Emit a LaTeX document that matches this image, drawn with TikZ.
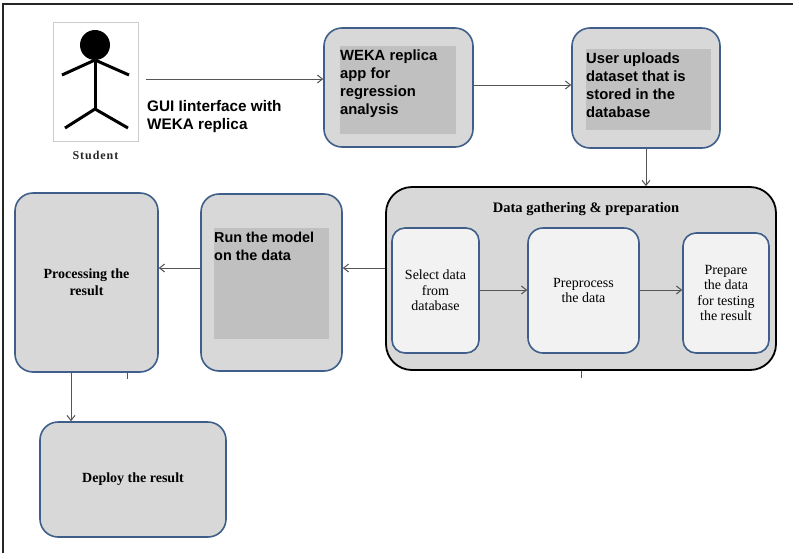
\documentclass[tikz,border=0pt]{standalone}
\usepackage{fontspec}
\setmainfont{Liberation Serif}
\setsansfont{Liberation Sans}
\usepackage{xcolor}
\usetikzlibrary{arrows.meta,positioning,calc}
\definecolor{edgeblue}{HTML}{3F5F8A}
\definecolor{panelgray}{HTML}{D8D8D8}
\definecolor{innergray}{HTML}{C0C0C0}
\definecolor{palegray}{HTML}{F2F2F2}
\definecolor{wiregray}{HTML}{555555}

\begin{document}
\begin{tikzpicture}[
  x=1pt, y=-1pt,
  panel/.style={draw=edgeblue, fill=panelgray, line width=1.6pt, rectangle, rounded corners=18pt,
              align=center, inner sep=0pt, font=\rmfamily\bfseries\fontsize{14}{17}\selectfont},
  subpanel/.style={panel, fill=palegray, rounded corners=13pt, font=\rmfamily\fontsize{14}{15.5}\selectfont},
  group/.style={draw=black, fill=panelgray, line width=1.8pt, rectangle, rounded corners=26pt, inner sep=0pt},
  inner/.style={fill=innergray, rectangle, inner sep=0pt},
  sanslabel/.style={anchor=north west, align=left, inner sep=0pt, font=\sffamily\bfseries\fontsize{14.8}{18}\selectfont},
  arr/.style={-{Straight Barb[length=5pt,width=8pt]}, wiregray, line width=1pt},
  stub/.style={wiregray, line width=1pt},
  limb/.style={line width=3pt, black}
]
\useasboundingbox (0,0) rectangle (801,558);

% Page frame
\draw[line width=2.2pt, black!85] (3,553) -- (3,4) -- (793,4);

% Student figure
\node[draw=black!20, fill=white, minimum width=85pt, minimum height=119pt, inner sep=0pt] (student) at (95.5,81.5) {};
\node[circle, fill=black, minimum size=30pt, inner sep=0pt] (head) at (95,45) {};
\coordinate (neck) at (95,60);
\coordinate (hip) at (95,109);
\draw[limb] (head.south) -- (hip);
\draw[limb] (62,75) -- (neck) -- (129,75);
\draw[limb] (65,128) -- (hip) -- (128,128);
\node[below=10pt of student, inner sep=0pt, font=\rmfamily\bfseries\fontsize{12}{14}\selectfont\addfontfeature{LetterSpace=8}, text=black!85] (studentlabel) {Student};

% Top row
\node[panel, minimum width=149pt, minimum height=119pt] (weka) at (398.5,87.5) {};
\node[inner, minimum width=116pt, minimum height=88pt] (wekainner) at (398,90) {};
\node[sanslabel] (wekatext) at (340,49.5) {WEKA replica\\app for\\regression\\analysis};
\node[panel, minimum width=148pt, minimum height=120pt] (upload) at (646,88) {};
\node[inner, minimum width=125pt, minimum height=81pt] (uploadinner) at (648.5,89.5) {};
\node[sanslabel] (uploadtext) at (586,53) {User uploads\\dataset that is\\stored in the\\database};

\coordinate (gui) at (146,79);
\node[sanslabel, font=\sffamily\bfseries\fontsize{15.3}{18}\selectfont] (guitext) at (147,100.5) {GUI Iinterface with\\WEKA replica};

% Data gathering group
\node[group, minimum width=390pt, minimum height=183pt] (gather) at (581,278.5) {};
\node[inner sep=0pt, font=\rmfamily\bfseries\fontsize{14.5}{17}\selectfont] (gathertitle) at (586,209) {Data gathering \& preparation};
\node[subpanel, minimum width=87pt, minimum height=125pt] (select) at (435.5,290.5) {Select data\\from\\database};
\node[subpanel, minimum width=111pt, minimum height=125pt, rounded corners=15pt] (prep) at (583.5,290.5) {Preprocess\\the data};
\node[subpanel, minimum width=86pt, minimum height=120pt] (ready) at (726,293) {Prepare\\the data\\for testing\\the result};

% Lower left boxes
\node[panel, minimum width=141pt, minimum height=177pt] (run) at (271.5,282.5) {};
\node[inner, minimum width=115pt, minimum height=111pt] (runinner) at (271.5,283.5) {};
\node[sanslabel, font=\sffamily\bfseries\fontsize{14.4}{18}\selectfont] (runtext) at (214,232) {Run the model\\on the data};
\node[panel, minimum width=143pt, minimum height=179pt] (process) at (86.5,282.5) {Processing the\\result};
\node[panel, minimum width=186pt, minimum height=115pt] (deploy) at (133,479.5) {\raisebox{-1.5pt}{Deploy the result}};

% Flow
\draw[arr] (gui) -- (weka.west |- gui);
\draw[arr] (weka.east |- 0,85) -- (upload.west |- 0,85);
\draw[arr] (upload.south) -- (gather.north -| upload.south);
\draw[arr] (gather.west |- 0,268) -- (run.east |- 0,268);
\draw[arr] (run.west |- 0,268) -- (process.east |- 0,268);
\draw[arr] (select.east |- 0,290) -- (prep.west |- 0,290);
\draw[arr] (prep.east |- 0,290) -- (ready.west |- 0,290);
\draw[arr] (process.south -| 71,0) -- (deploy.north -| 71,0);

% Stray ticks under the boxes
\draw[stub] (process.south -| 127,0) -- ++(0,6);
\draw[stub] (gather.south) -- ++(0,7);
\end{tikzpicture}
\end{document}
